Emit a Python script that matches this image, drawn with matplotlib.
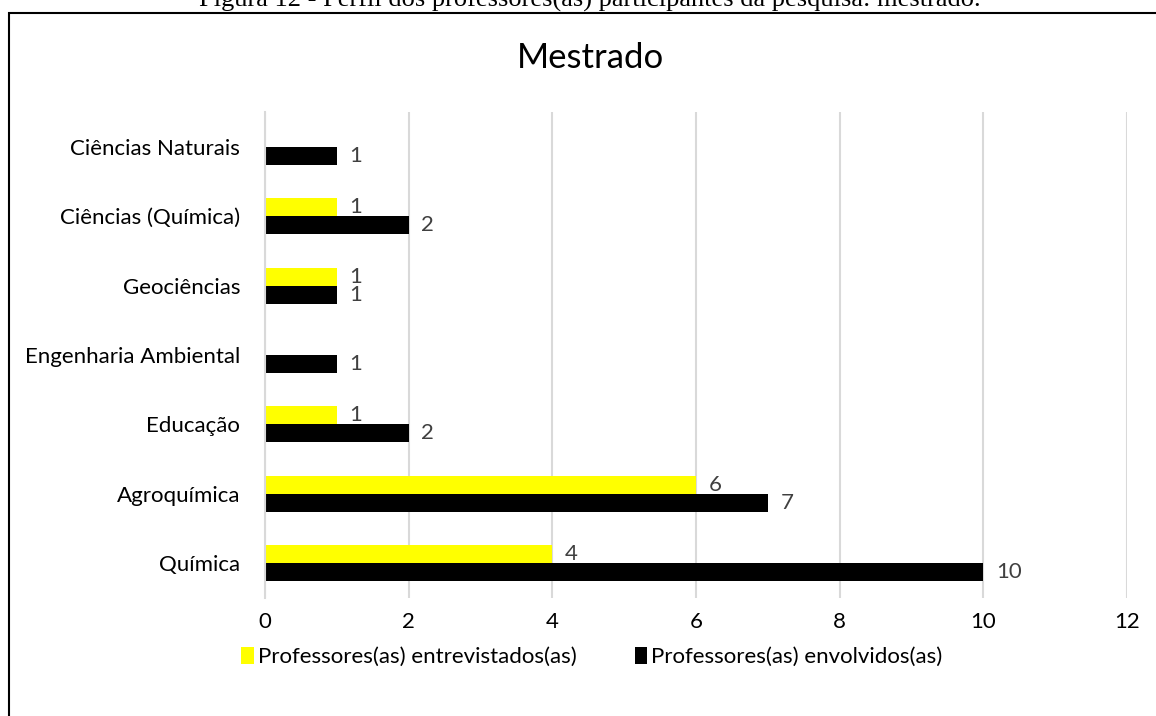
import matplotlib.pyplot as plt
import numpy as np
from matplotlib.patches import Rectangle

plt.rcParams['font.family'] = ['Lato', 'DejaVu Sans']

# Data (bottom to top, as drawn on the y axis)
categories = ["Química", "Agroquímica", "Educação", "Engenharia Ambiental",
              "Geociências", "Ciências (Química)", "Ciências Naturais"]
entrevistados = [4, 6, 1, 0, 1, 1, 0]
envolvidos = [10, 7, 2, 1, 1, 2, 1]
series_names = ["Professores(as) entrevistados(as)", "Professores(as) envolvidos(as)"]
x_ticks = [0, 2, 4, 6, 8, 10, 12]

W, H = 1156, 716
fig = plt.figure(figsize=(W / 100, H / 100), dpi=100)
fig.patch.set_facecolor('white')

# Caption above the chart frame (partly cut by the page edge)
fig.text(590 / W, 1 - 7 / H, "Figura 12 - Perfil dos professores(as) participantes da pesquisa: mestrado.",
         family='Liberation Serif', fontsize=19, ha='center', va='baseline', color='black')

# Chart frame
frame = Rectangle((8.5 / W, -0.05), 1.2, 1 - 12.5 / H + 0.05, transform=fig.transFigure,
                  fill=False, edgecolor='black', linewidth=1.5)
fig.patches.append(frame)

ax = fig.add_axes([265 / W, 1 - 598 / H, (1127 - 265) / W, (598 - 112) / H])

y = np.arange(len(categories))
h = 0.26
bars_y = ax.barh(y + h / 2, entrevistados, height=h, color='#ffff00', label=series_names[0])
bars_b = ax.barh(y - h / 2, envolvidos, height=h, color='#000000', label=series_names[1])

# Value labels, skipping zeros
for bars, vals in [(bars_y, entrevistados), (bars_b, envolvidos)]:
    for b, v in zip(bars, vals):
        if v == 0:
            continue
        ax.annotate(str(v), xy=(v, b.get_y() + b.get_height() / 2),
                    xytext=(9, 0), textcoords='offset points',
                    ha='left', va='center', fontsize=16, color='#404040')

ax.set_xlim(0, 12)
ax.set_ylim(-0.5, len(categories) - 0.5)
ax.set_xticks(x_ticks)
ax.set_xticklabels([str(t) for t in x_ticks])
ax.set_yticks(y)
ax.set_yticklabels(categories)
ax.tick_params(axis='both', length=0, labelsize=16, colors='#000000')
ax.tick_params(axis='x', pad=10)
ax.tick_params(axis='y', pad=18)

ax.grid(axis='x', color='#d9d9d9', linewidth=1.5)
ax.set_axisbelow(True)
for s in ['top', 'right', 'bottom']:
    ax.spines[s].set_visible(False)
ax.spines['left'].set_color('#d9d9d9')
ax.spines['left'].set_linewidth(1.5)

fig.text(590 / W, 1 - 58 / H, "Mestrado", fontsize=25, ha='center', va='center', color='black')

fig.legend(loc='center', bbox_to_anchor=(592 / W, 1 - 657 / H), ncol=2, frameon=False,
           fontsize=16, handlelength=0.55, handleheight=0.8, handletextpad=0.2, columnspacing=2.6)

plt.savefig('out.png', dpi=100)
